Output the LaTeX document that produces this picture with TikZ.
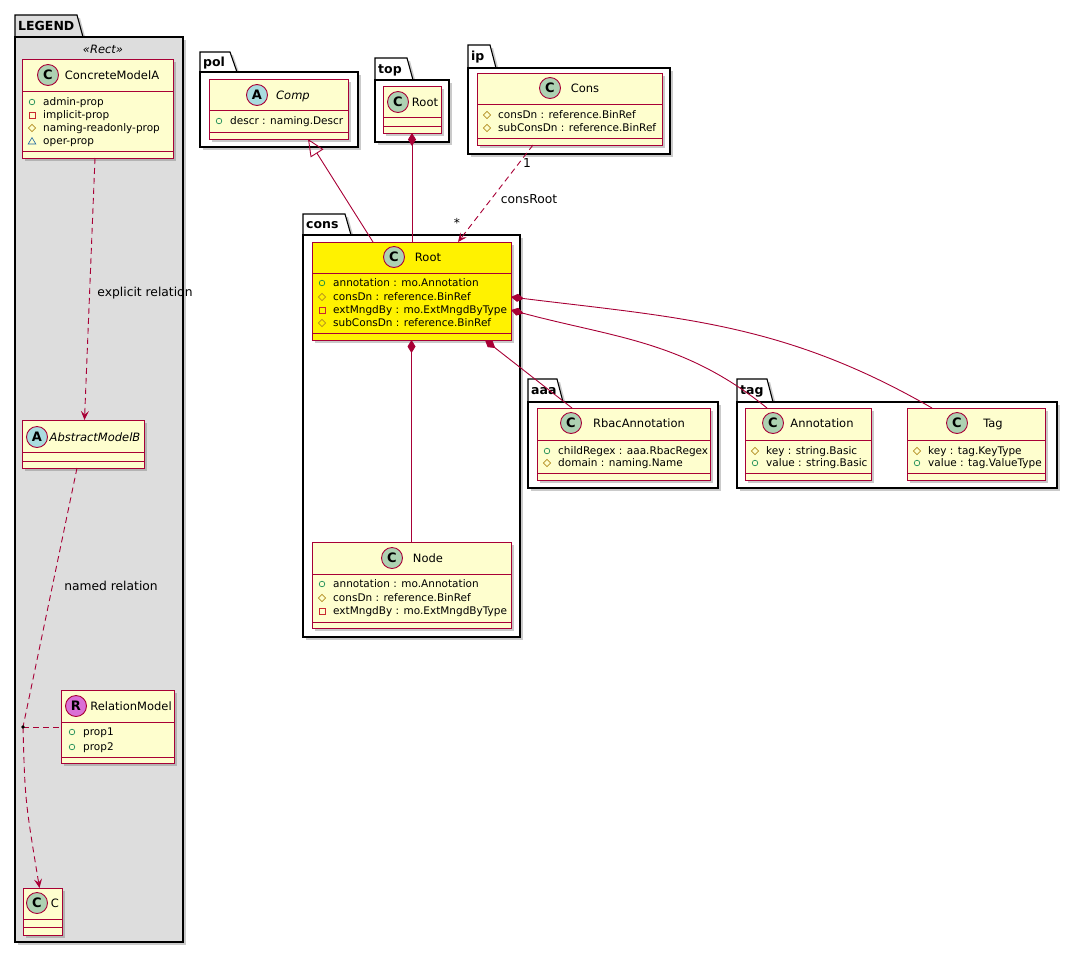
\documentclass[tikz,border=0pt]{standalone}
\usepackage{fontspec}
\setmainfont{DejaVu Sans}
\usetikzlibrary{arrows.meta,shadows,positioning}

\definecolor{umlred}{HTML}{A80036}
\definecolor{umlfill}{HTML}{FEFECE}
\definecolor{spotC}{HTML}{ADD1B2}
\definecolor{spotA}{HTML}{A9DCDF}
\definecolor{spotR}{HTML}{DA70D6}
\definecolor{pubc}{HTML}{038048}
\definecolor{privc}{HTML}{C82930}
\definecolor{protc}{HTML}{B38D22}
\definecolor{pkgc}{HTML}{1963A0}
\definecolor{legendgrey}{HTML}{DDDDDD}

% icone di visibilita
\newcommand{\vpub}[2]{\draw[pubc, line width=0.6pt] (#1,#2) circle (2.8);}
\newcommand{\vpriv}[2]{\draw[privc, line width=0.6pt] (#1-2.8,#2-2.8) rectangle (#1+2.8,#2+2.8);}
\newcommand{\vprot}[2]{\draw[protc, line width=0.6pt] (#1-3.6,#2) -- (#1,#2+3.6) -- (#1+3.6,#2) -- (#1,#2-3.6) -- cycle;}
\newcommand{\vpkg}[2]{\draw[pkgc, line width=0.6pt] (#1-3.8,#2-3) -- (#1+3.8,#2-3) -- (#1,#2+3.4) -- cycle;}
% riga di attributo
\newcommand{\attr}[5]{\csname v#2\endcsname{#3}{#4}\node[attr] (#1) at (#3+11,#4) {#5};}

\begin{document}
\begin{tikzpicture}[x=1pt, y=1pt,
  umlbox/.style={draw=umlred, fill=umlfill, line width=0.9pt, inner sep=0, outer sep=0, anchor=north west,
    drop shadow={shadow xshift=3pt, shadow yshift=-3pt, opacity=.35, fill=black!60}},
  umlline/.style={umlred, line width=0.9pt},
  pkg/.style={draw=black, line width=1.1pt, fill=white,
    drop shadow={shadow xshift=3pt, shadow yshift=-3pt, opacity=.35, fill=black!60}},
  pkgname/.style={anchor=west, inner sep=0, font=\bfseries\fontsize{12.5}{14}\selectfont, text height=9.1pt, text depth=0pt},
  cname/.style={inner sep=0, font=\fontsize{11.5}{13}\selectfont, text height=8.4pt, text depth=0pt},
  spot/.style={circle, draw=umlred, line width=0.9pt, minimum size=21pt, inner sep=0,
    font=\bfseries\fontsize{13}{13}\selectfont, text height=9.5pt, text depth=0pt},
  attr/.style={anchor=west, inner sep=0, font=\fontsize{10.5}{12}\selectfont, text height=7.7pt, text depth=0pt},
  lbl/.style={inner sep=0, font=\fontsize{12.3}{14}\selectfont, text height=9pt, text depth=0pt},
  dashpat/.style={dash pattern=on 6pt off 4pt},
  dep/.style={umlred, line width=0.9pt, dashpat, -{Stealth[length=9pt, width=8pt, inset=3.5pt]}},
  compo/.style={umlred, line width=0.9pt, {Diamond[length=13pt, width=8pt]}-},
  gen/.style={umlred, line width=0.9pt, -{Triangle[open, length=17pt, width=15pt]}}]

\useasboundingbox (0,0) rectangle (1073,-954);

% Pacchetto LEGEND
\draw[pkg, fill=legendgrey] (15,-37) -- (15,-15) -- (77,-15) -- (83,-37) -- cycle;
\draw[pkg, fill=legendgrey] (15,-37) rectangle (183,-942);
\node[pkgname] (legend) at (18,-26) {LEGEND};
\node[cname, font=\itshape\fontsize{11.5}{13}\selectfont] (stRect) at (103,-49) {«Rect»};

% Pacchetti pol, top, ip
\draw[pkg] (200,-72) -- (200,-52) -- (230,-52) -- (237,-72) -- cycle;
\draw[pkg] (200,-72) rectangle (358,-147);
\node[pkgname] (pol) at (203,-62) {pol};
\draw[pkg] (375,-80) -- (375,-58) -- (407,-58) -- (413,-80) -- cycle;
\draw[pkg] (375,-80) rectangle (449,-142);
\node[pkgname] (top) at (378,-69) {top};
\draw[pkg] (468,-68) -- (468,-45) -- (490,-45) -- (496,-68) -- cycle;
\draw[pkg] (468,-68) rectangle (670,-154);
\node[pkgname] (ip) at (471,-56) {ip};

% Pacchetti cons, aaa, tag
\draw[pkg] (303,-235) -- (303,-214) -- (345,-214) -- (351,-235) -- cycle;
\draw[pkg] (303,-235) rectangle (520,-637);
\node[pkgname] (cons) at (306,-224) {cons};
\draw[pkg] (528,-402) -- (528,-379) -- (557,-379) -- (563,-402) -- cycle;
\draw[pkg] (528,-402) rectangle (718,-488);
\node[pkgname] (aaa) at (531,-390) {aaa};
\draw[pkg] (737,-402) -- (737,-379) -- (767,-379) -- (773,-402) -- cycle;
\draw[pkg] (737,-402) rectangle (1057,-488);
\node[pkgname] (tag) at (740,-390) {tag};

% Classi
\node[umlbox, minimum width=151, minimum height=99] (cma) at (22,-59) {};
\node[umlbox, minimum width=122, minimum height=48] (amb) at (22,-420) {};
\node[umlbox, minimum width=113, minimum height=73] (relm) at (61,-690) {};
\node[umlbox, minimum width=39, minimum height=47] (cc) at (23,-888) {};
\node[umlbox, minimum width=139, minimum height=60] (comp) at (209,-79) {};
\node[umlbox, minimum width=58, minimum height=47] (toproot) at (383,-86) {};
\node[umlbox, minimum width=185, minimum height=72] (ipcons) at (477,-73) {};
\node[umlbox, fill=yellow, minimum width=199, minimum height=98] (croot) at (312,-242) {};
\node[umlbox, minimum width=199, minimum height=86] (node) at (312,-542) {};
\node[umlbox, minimum width=173, minimum height=72] (rbac) at (537,-408) {};
\node[umlbox, minimum width=126, minimum height=72] (annot) at (745,-408) {};
\node[umlbox, minimum width=138, minimum height=72] (tagc) at (907,-408) {};

\foreach \n/\y in {cma/91, cma/151, amb/452, amb/461, relm/722, relm/757, cc/919, cc/927,
  comp/110, comp/132, toproot/117, toproot/126, ipcons/104, ipcons/138, croot/273, croot/333,
  node/574, node/622, rbac/440, rbac/473, annot/440, annot/473, tagc/440, tagc/473}
  \draw[umlline] (\n.west |- 0,-\y) -- (\n.east |- 0,-\y);

% Cerchi e nomi
\node[spot, fill=spotC] (cmaS) at (48,-75) {C};
\node[cname] (cmaN) at (112,-75) {ConcreteModelA};
\node[spot, fill=spotA] (ambS) at (37,-437) {A};
\node[cname, font=\itshape\fontsize{11.5}{13}\selectfont] (ambN) at (95,-437) {AbstractModelB};
\node[spot, fill=spotR] (relmS) at (76,-706) {R};
\node[cname] (relmN) at (131,-706) {RelationModel};
\node[spot, fill=spotC] (ccS) at (37,-903) {C};
\node[cname] (ccN) at (55,-903) {C};
\node[spot, fill=spotA] (compS) at (257,-95) {A};
\node[cname, font=\itshape\fontsize{11.5}{13}\selectfont] (compN) at (293,-95) {Comp};
\node[spot, fill=spotC] (toprootS) at (398,-102) {C};
\node[cname] (toprootN) at (425,-102) {Root};
\node[spot, fill=spotC] (ipconsS) at (550,-88) {C};
\node[cname] (ipconsN) at (585,-88) {Cons};
\node[spot, fill=spotC] (crootS) at (394,-257) {C};
\node[cname] (crootN) at (428,-257) {Root};
\node[spot, fill=spotC] (nodeS) at (392,-558) {C};
\node[cname] (nodeN) at (428,-558) {Node};
\node[spot, fill=spotC] (rbacS) at (571,-423) {C};
\node[cname] (rbacN) at (639,-423) {RbacAnnotation};
\node[spot, fill=spotC] (annotS) at (773,-423) {C};
\node[cname] (annotN) at (822,-423) {Annotation};
\node[spot, fill=spotC] (tagcS) at (957,-423) {C};
\node[cname] (tagcN) at (993,-423) {Tag};

% Attributi
\attr{cmaA}{pub}{32}{-102}{admin-prop}
\attr{cmaB}{priv}{32}{-115}{implicit-prop}
\attr{cmaC}{prot}{32}{-128}{naming-readonly-prop}
\attr{cmaD}{pkg}{32}{-141}{oper-prop}
\attr{relmA}{pub}{72}{-732}{prop1}
\attr{relmB}{pub}{72}{-747}{prop2}
\attr{compA}{pub}{219}{-121}{descr : naming.Descr}
\attr{ipconsA}{prot}{487}{-115}{consDn : reference.BinRef}
\attr{ipconsB}{prot}{487}{-128}{subConsDn : reference.BinRef}
\attr{crootA}{pub}{322}{-283}{annotation : mo.Annotation}
\attr{crootB}{prot}{322}{-297}{consDn : reference.BinRef}
\attr{crootC}{priv}{322}{-310}{extMngdBy : mo.ExtMngdByType}
\attr{crootD}{prot}{322}{-323}{subConsDn : reference.BinRef}
\attr{nodeA}{pub}{322}{-584}{annotation : mo.Annotation}
\attr{nodeB}{prot}{322}{-598}{consDn : reference.BinRef}
\attr{nodeC}{priv}{322}{-611}{extMngdBy : mo.ExtMngdByType}
\attr{rbacA}{pub}{547}{-451}{childRegex : aaa.RbacRegex}
\attr{rbacB}{prot}{547}{-463}{domain : naming.Name}
\attr{annotA}{prot}{755}{-451}{key : string.Basic}
\attr{annotB}{pub}{755}{-463}{value : string.Basic}
\attr{tagcA}{prot}{917}{-451}{key : tag.KeyType}
\attr{tagcB}{pub}{917}{-463}{value : tag.ValueType}

% Relazioni
\draw[gen] ([xshift=-38.5pt]croot.north) -- ([xshift=29.5pt]comp.south);
\draw[compo] (toproot.south) -- (toproot.south |- croot.north);
\draw[dep] ([xshift=-36.5pt]ipcons.south) -- ([xshift=46.5pt]croot.north);
\node[lbl] (one) at (527,-163) {1};
\node[lbl] (many) at (457,-223) {*};
\node[lbl] (consRoot) at (529,-199) {consRoot};
\draw[compo] (croot.south) -- (node.north);
\draw[compo] ([xshift=73.5pt]croot.south) -- ([xshift=-51.5pt]rbac.north);
\draw[compo] ([yshift=-19pt]croot.east) to[out=-15, in=141] ([xshift=-41pt]annot.north);
\draw[compo] ([yshift=-6pt]croot.east) to[out=-7, in=150] ([xshift=-44pt]tagc.north);

% Relazioni della legenda
\draw[dep] ([xshift=-2.5pt]cma.south) -- ([xshift=1.5pt]amb.north);
\node[lbl] (explicit) at (145,-292) {explicit relation};
\coordinate (rel) at (23,-727);
\draw[umlred, line width=0.9pt, dashpat] ([xshift=-6pt]amb.south) -- (rel);
\draw[dep] (rel) .. controls (25,-800) .. ([xshift=-3pt]cc.north);
\draw[umlred, line width=0.9pt, dashpat] (rel) -- (rel -| relm.west);
\fill (rel) circle (1.8);
\node[lbl] (named) at (111,-586) {named relation};

\end{tikzpicture}
\end{document}
